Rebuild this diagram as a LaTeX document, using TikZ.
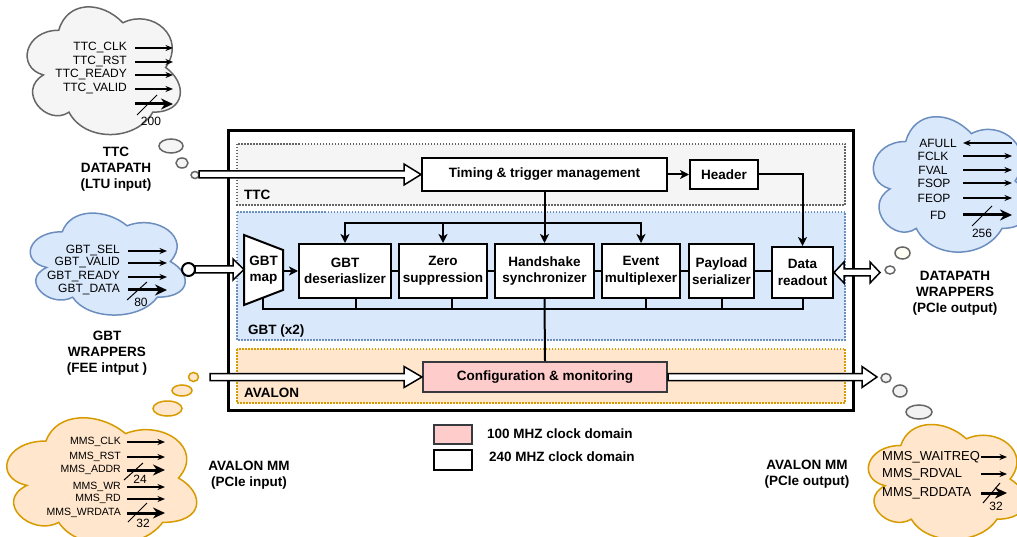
\documentclass[tikz,border=0pt]{standalone}
\usepackage{fontspec}
\setmainfont{Liberation Sans}
\usetikzlibrary{arrows.meta,calc}
\definecolor{ttcfill}{HTML}{F5F5F5}
\definecolor{ttcline}{HTML}{666666}
\definecolor{gbtfill}{HTML}{DAE8FC}
\definecolor{gbtline}{HTML}{6C8EBF}
\definecolor{avfill}{HTML}{FFE6CC}
\definecolor{avline}{HTML}{D79B00}
\definecolor{cfgfill}{HTML}{FFCCCC}
\definecolor{cfgline}{HTML}{36393D}
\newcommand\drawcloud[5]{%
  \path[#1, shift={(#2,#3)}, x=#4pt, y=-#5pt]
   (0.25,0.25) .. controls (0.05,0.25) and (0,0.5) .. (0.16,0.55)
   .. controls (0,0.66) and (0.18,0.9) .. (0.31,0.8)
   .. controls (0.4,1) and (0.7,1) .. (0.8,0.8)
   .. controls (1,0.8) and (1,0.6) .. (0.875,0.5)
   .. controls (1,0.3) and (0.8,0.1) .. (0.625,0.2)
   .. controls (0.5,0.05) and (0.3,0.05) .. (0.25,0.25) -- cycle;}
\newcommand\flexR[3]{%
  \draw[flex] let \p1=(#1), \p2=(#2) in
   (\x1,\y1+3.5pt) -- (\x2-#3pt,\y1+3.5pt) -- (\x2-#3pt,\y1+10.5pt) -- (\x2,\y1)
   -- (\x2-#3pt,\y1-10.5pt) -- (\x2-#3pt,\y1-3.5pt) -- (\x1,\y1-3.5pt) -- cycle;}
\begin{document}
\begin{tikzpicture}[x=1pt,y=-1pt,
  blk/.style={draw=black, line width=2pt, fill=white, align=center, inner sep=0pt, font=\fontsize{13.5}{16.5}\selectfont\bfseries},
  region/.style={line width=1.5pt, dash pattern=on 1.5pt off 1.5pt},
  lbl/.style={font=\fontsize{13.5}{16}\selectfont\bfseries, align=center, inner sep=0pt},
  sigtxt/.style={font=\fontsize{12}{14}\selectfont, inner sep=0pt, anchor=east},
  smalltxt/.style={font=\fontsize{10.5}{12}\selectfont, inner sep=0pt, anchor=east},
  numtxt/.style={font=\fontsize{12}{14}\selectfont, inner sep=0pt},
  outtxt/.style={font=\fontsize{13}{15}\selectfont, inner sep=0pt, anchor=west},
  wire/.style={line width=2pt},
  warr/.style={wire, -{Stealth[length=9pt,width=9pt,inset=2.5pt]}},
  sig/.style={line width=1.2pt, -{Stealth[length=7.5pt,width=6pt]}},
  bus/.style={line width=3pt, -{Stealth[length=12pt,width=11pt]}},
  slash/.style={line width=1pt},
  flex/.style={draw=black, line width=1.5pt, fill=white, line join=miter},
  bubttc/.style={draw=ttcline, fill=ttcfill, line width=1.5pt},
  bubav/.style={draw=avline, fill=avfill, line width=1.5pt},
  bubgr/.style={draw=ttcline, fill=ttcfill!80!gray!40, line width=1.5pt},
]
\fill[white] (0,0) rectangle (1017,537);
\useasboundingbox (0,0) rectangle (1017,537);
\clip (0,0) rectangle (1017,537);

% ---------- clouds ----------
\drawcloud{draw=ttcline, fill=ttcfill, line width=1.5pt}{16}{-7}{171}{149}
\drawcloud{draw=gbtline, fill=gbtfill, line width=1.5pt}{19}{202}{173}{119}
\drawcloud{draw=avline, fill=avfill, line width=1.5pt}{-7}{404}{212}{148}
\drawcloud{draw=gbtline, fill=gbtfill, line width=1.5pt}{862}{102}{175}{158}
\drawcloud{draw=avline, fill=avfill, line width=1.5pt}{857}{412}{175}{134}

% ---------- bubbles ----------
\filldraw[bubttc] (171,146) ellipse [x radius=12pt, y radius=7pt];
\filldraw[bubttc] (182,163) ellipse [x radius=6pt, y radius=5pt];
\filldraw[bubttc] (195,175) ellipse [x radius=4pt, y radius=3.5pt];
\filldraw[draw=black, fill=white, line width=2pt] (188.5,269.5) circle [radius=6.5pt];
\filldraw[bubav] (193.5,377) ellipse [x radius=5pt, y radius=4.5pt];
\filldraw[bubav] (182,390.5) ellipse [x radius=10pt, y radius=5.5pt];
\filldraw[bubav] (167.5,408.5) ellipse [x radius=14.5pt, y radius=7.5pt];
\filldraw[bubgr] (886,378) ellipse [x radius=5pt, y radius=4.5pt];
\filldraw[bubgr] (900,391) ellipse [x radius=7pt, y radius=6pt];
\filldraw[bubgr] (919,412) ellipse [x radius=13pt, y radius=7pt];
\filldraw[draw=ttcline, fill=white, line width=1.5pt] (890,270) ellipse [x radius=5pt, y radius=4pt];
\filldraw[draw=ttcline, fill=yellow!4, line width=1.5pt] (902.5,253) ellipse [x radius=7.5pt, y radius=6pt];

% ---------- main box and regions ----------
\draw[line width=3pt] (228,131) rectangle (853,410);
\filldraw[region, fill=ttcfill, draw=ttcline] (237,144) rectangle (845,205);
\filldraw[region, fill=gbtfill, draw=gbtline] (237,212) rectangle (845,340);
\filldraw[region, fill=avfill, draw=avline] (237,349) rectangle (845,403);
\node[lbl, anchor=west] (ttcL) at (244,195) {TTC};
\node[lbl, anchor=west] (gbtL) at (248,331) {GBT (x2)};
\node[lbl, anchor=west] (avL) at (244,393) {AVALON};

% ---------- blocks ----------
\node[blk, minimum width=245, minimum height=33] (tim) at (544.5,174.5) {Timing \& trigger management};
\node[blk, minimum width=68, minimum height=29] (hdr) at (724,174.5) {Header};
\node[blk, minimum width=92, minimum height=54] (des) at (345,271) {GBT\\deseriaslizer};
\node[blk, minimum width=88, minimum height=54] (zer) at (443,271) {Zero\\suppression};
\node[blk, minimum width=99, minimum height=54] (hsk) at (544.5,271) {Handshake\\synchronizer};
\node[blk, minimum width=78, minimum height=54] (evt) at (641,271) {Event\\multiplexer};
\node[blk, minimum width=65, minimum height=54] (pay) at (721.5,271) {Payload\\serializer};
\node[blk, minimum width=61, minimum height=51] (dro) at (802.5,272.5) {Data\\readout};
\node[blk, draw=cfgline, fill=cfgfill, minimum width=244, minimum height=30] (cfg) at (545,377) {Configuration \& monitoring};

\filldraw[line width=2pt, fill=white] (244,235) -- (283,250) -- (283,290) -- (244,305) -- cycle;
\node[lbl] (gmap) at (263.5,270) {GBT\\map};
\coordinate (gmapR) at (283,271);
\coordinate (gmapB) at (263,297.7);
\coordinate (gmapL) at (244,269.5);

% ---------- connectors ----------
\draw[warr] (tim.east) -- (hdr.west);
\draw[warr] (hdr.east) -| (dro.north);
\draw[warr] (tim.south) -- (hsk.north);
\coordinate (busT) at (0,223);
\draw[warr] (busT -| hsk.north) -| (des.north);
\draw[warr] (busT -| hsk.north) -| (evt.north);
\draw[warr] (busT -| zer.north) -- (zer.north);
\draw[wire] (des.east) -- (zer.west);
\draw[wire] (zer.east) -- (hsk.west);
\draw[wire] (hsk.east) -- (evt.west);
\draw[wire] (evt.east) -- (pay.west);
\draw[wire] (pay.east) -- (pay.east -| dro.west);
\draw[warr] (gmapR) -- (des.west);
\coordinate (busB) at (0,309);
\draw[wire] (gmapB) -- (gmapB |- busB) -- (busB -| dro.south) -- (dro.south);
\coordinate (desB) at ([xshift=11pt]des.south);
\coordinate (zerB) at ([xshift=9pt]zer.south);
\coordinate (evtB) at ([xshift=5pt]evt.south);
\draw[wire] (desB) -- (desB |- busB);
\draw[wire] (zerB) -- (zerB |- busB);
\draw[wire] (evtB) -- (evtB |- busB);
\draw[wire] (pay.south) -- (pay.south |- busB);
\draw[wire] (hsk.south) -- (cfg.north);

% ---------- hollow arrows ----------
\coordinate (ttcStart) at (199,174.5);
\flexR{ttcStart}{tim.west}{17}
\coordinate (gbtStart) at (195,269.5);
\flexR{gbtStart}{gmapL}{11}
\coordinate (avStart) at (210,377);
\flexR{avStart}{cfg.west}{18}
\coordinate (avOutEnd) at (877,377);
\flexR{cfg.east}{avOutEnd}{15}
\coordinate (dpEnd) at (880,272.5);
\draw[flex] let \p1=(dro.east), \p2=(dpEnd) in
  (\x1,\y1) -- (\x1+10pt,\y1+10.5pt) -- (\x1+10pt,\y1+3.5pt) -- (\x2-10pt,\y1+3.5pt)
  -- (\x2-10pt,\y1+10.5pt) -- (\x2,\y1) -- (\x2-10pt,\y1-10.5pt) -- (\x2-10pt,\y1-3.5pt)
  -- (\x1+10pt,\y1-3.5pt) -- (\x1+10pt,\y1-10.5pt) -- cycle;

% ---------- TTC cloud ----------
\coordinate (tA) at (135,0); \coordinate (tB) at (173,0);
\node[sigtxt] (tclk) at (127,48) {TTC\_CLK};
\node[sigtxt] (trst) at (127,62) {TTC\_RST};
\node[sigtxt] (trdy) at (127,75) {TTC\_READY};
\node[sigtxt] (tval) at (127,89) {TTC\_VALID};
\draw[sig] (tclk -| tA) -- (tclk -| tB);
\draw[sig] (trst -| tA) -- (trst -| tB);
\draw[sig] (trdy -| tA) -- (trdy -| tB);
\draw[sig] (tval -| tA) -- (tval -| tB);
\coordinate (tdS) at (135,104); \coordinate (tdE) at (173,104);
\draw[bus] (tdS) -- (tdE);
\draw[slash] (137,115) -- (157,95);
\node[numtxt] (t200) at (151,121) {200};
\node[lbl] (ttcLbl) at (116,169) {TTC\\DATAPATH\\(LTU input)};

% ---------- GBT cloud ----------
\coordinate (gA) at (128,0); \coordinate (gB) at (167,0);
\node[sigtxt] (gsel) at (120,251) {GBT\_SEL};
\node[sigtxt] (gval) at (120,263) {GBT\_VALID};
\node[sigtxt] (grdy) at (120,277) {GBT\_READY};
\node[sigtxt] (gdat) at (120,290) {GBT\_DATA};
\draw[sig] (gsel -| gA) -- (gsel -| gB);
\draw[sig] (gval -| gA) -- (gval -| gB);
\draw[sig] (grdy -| gA) -- (grdy -| gB);
\draw[bus] (gdat -| gA) -- (gdat -| gB);
\draw[slash] (127,300) -- (147,282);
\node[numtxt] (g80) at (141,302) {80};
\node[lbl] (gbtLbl) at (107,353) {GBT\\WRAPPERS\\(FEE intput )};

% ---------- AVALON in cloud ----------
\coordinate (mA) at (127,0); \coordinate (mB) at (165,0);
\node[smalltxt] (mclk) at (121,442) {MMS\_CLK};
\node[smalltxt] (mrst) at (121,457) {MMS\_RST};
\node[smalltxt] (madr) at (121,470) {MMS\_ADDR};
\node[smalltxt] (mwr) at (121,487) {MMS\_WR};
\node[smalltxt] (mrd) at (121,499) {MMS\_RD};
\node[smalltxt] (mwd) at (121,513) {MMS\_WRDATA};
\draw[sig] (mclk -| mA) -- (mclk -| mB);
\draw[sig] (mrst -| mA) -- (mrst -| mB);
\draw[bus] (madr -| mA) -- (madr -| mB);
\draw[sig] (mwr -| mA) -- (mwr -| mB);
\draw[sig] (mrd -| mA) -- (mrd -| mB);
\draw[bus] (mwd -| mA) -- (mwd -| mB);
\draw[slash] (124,480) -- (143,463);
\node[numtxt] (m24) at (140,479) {24};
\draw[slash] (128,522) -- (147,503);
\node[numtxt] (m32) at (143,523) {32};
\node[lbl] (avInLbl) at (249,475) {AVALON MM\\(PCIe input)};

% ---------- DATAPATH cloud ----------
\coordinate (dA) at (963,0); \coordinate (dB) at (1012,0);
\node[numtxt] (afl) at (938,143) {AFULL};
\node[numtxt] (fclk) at (933,156) {FCLK};
\node[numtxt] (fval) at (933,170) {FVAL};
\node[numtxt] (fsop) at (934,183) {FSOP};
\node[numtxt] (feop) at (934,198) {FEOP};
\node[numtxt] (fd) at (938,215) {FD};
\draw[sig] (afl -| dB) -- (afl -| dA);
\draw[sig] (fclk -| dA) -- (fclk -| dB);
\draw[sig] (fval -| dA) -- (fval -| dB);
\draw[sig] (fsop -| dA) -- (fsop -| dB);
\draw[sig] (feop -| dA) -- (feop -| dB);
\draw[bus] (fd -| dA) -- (fd -| dB);
\draw[slash] (972,226) -- (992,206);
\node[numtxt] (f256) at (982,233) {256};
\node[lbl] (dpLbl) at (955,293) {DATAPATH\\WRAPPERS\\(PCIe output)};

% ---------- AVALON out cloud ----------
\coordinate (oA) at (981,0); \coordinate (oB) at (1007,0);
\node[outtxt] (mwt) at (882,457) {MMS\_WAITREQ};
\node[outtxt] (mrv) at (882,474) {MMS\_RDVAL};
\node[outtxt] (mrdd) at (882,493) {MMS\_RDDATA};
\draw[sig] (mwt -| oA) -- (mwt -| oB);
\draw[sig] (mrv -| oA) -- (mrv -| oB);
\draw[bus] (mrdd -| oA) -- (mrdd -| oB);
\draw[slash] (983,503) -- (1000,483);
\node[numtxt] (o32) at (996,506) {32};
\node[lbl] (avOutLbl) at (807,474.5) {AVALON MM\\(PCIe output)};

% ---------- legend ----------
\node[draw=cfgline, line width=2pt, fill=cfgfill, minimum width=38, minimum height=19, inner sep=0pt] (lg1) at (453,434.5) {};
\node[draw=black, line width=2pt, fill=white, minimum width=38, minimum height=20, inner sep=0pt] (lg2) at (453,460) {};
\node[lbl, anchor=west] (lg1t) at (487,434) {100 MHZ clock domain};
\node[lbl, anchor=west] (lg2t) at (489,457) {240 MHZ clock domain};
\end{tikzpicture}
\end{document}
